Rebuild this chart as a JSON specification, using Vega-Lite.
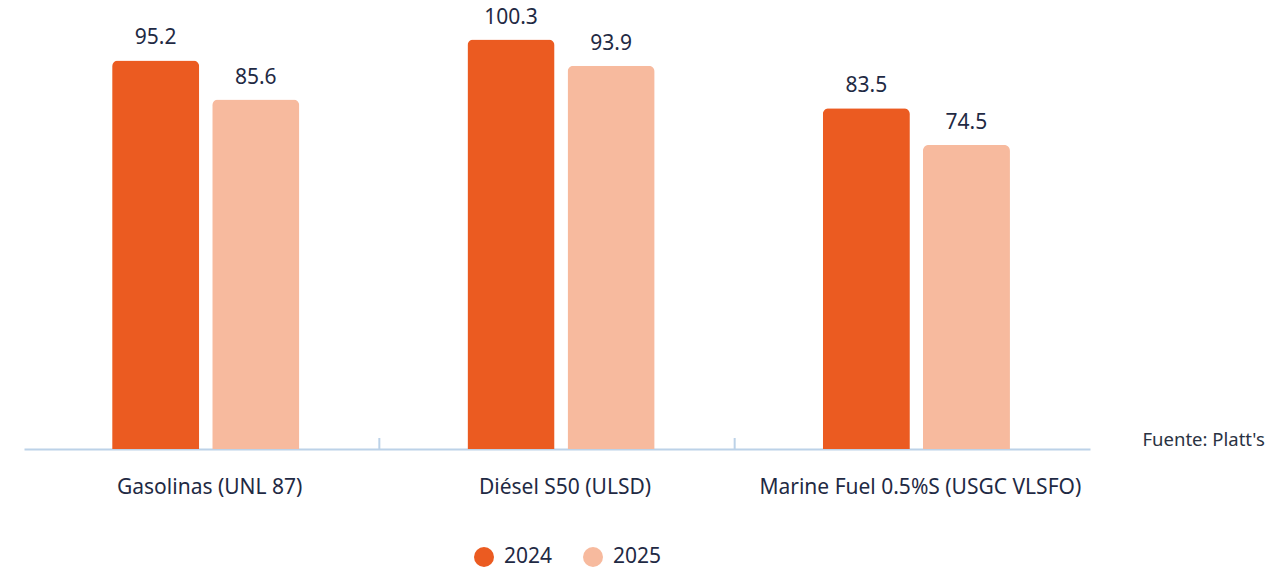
{
  "$schema": "https://vega.github.io/schema/vega-lite/v6.json",
  "width": 1066,
  "height": 449,
  "autosize": {"type": "none"},
  "padding": {"left": 24, "top": 0, "right": 178, "bottom": 121},
  "background": "white",
  "config": {
    "view": {"stroke": null},
    "font": "Noto Sans",
    "text": {"font": "Noto Sans"}
  },
  "datasets": {
    "bars": [
      {"producto": "Gasolinas (UNL 87)", "anio": "2024", "valor": 95.2},
      {"producto": "Gasolinas (UNL 87)", "anio": "2025", "valor": 85.6},
      {"producto": "Diésel S50 (ULSD)", "anio": "2024", "valor": 100.3},
      {"producto": "Diésel S50 (ULSD)", "anio": "2025", "valor": 93.9},
      {"producto": "Marine Fuel 0.5%S (USGC VLSFO)", "anio": "2024", "valor": 83.5},
      {"producto": "Marine Fuel 0.5%S (USGC VLSFO)", "anio": "2025", "valor": 74.5}
    ],
    "ticks": [
      {"producto": "Diésel S50 (ULSD)"},
      {"producto": "Marine Fuel 0.5%S (USGC VLSFO)"}
    ]
  },
  "layer": [
    {
      "data": {"name": "bars"},
      "mark": {"type": "bar", "cornerRadiusTopLeft": 6, "cornerRadiusTopRight": 6},
      "encoding": {
        "x": {
          "field": "producto", "type": "nominal", "sort": null,
          "scale": {"paddingInner": 0, "paddingOuter": 0},
          "axis": {
            "labelAngle": 0, "ticks": false, "labelPadding": 27, "labelLimit": 0, "labelOffset": 8,
            "labelFontSize": 21, "labelColor": "#1f2a44", "labelFont": "Noto Sans",
            "domainColor": "#bcd2e8", "domainWidth": 2,
            "title": "Fuente: Platt's", "titleFontSize": 18.5, "titleFontWeight": "normal",
            "titleColor": "#2a3242", "titleAnchor": "start", "titleAlign": "left",
            "titleX": 1118, "titleY": -10, "titleBaseline": "middle", "titleFont": "Noto Sans"
          }
        },
        "xOffset": {"field": "anio", "type": "nominal", "scale": {"paddingInner": 0.13, "paddingOuter": 0.84, "align": 0.524}},
        "y": {"field": "valor", "type": "quantitative", "scale": {"domain": [0, 110], "nice": false}, "axis": null},
        "color": {
          "field": "anio", "type": "nominal",
          "scale": {"domain": ["2024", "2025"], "range": ["#eb5b21", "#f7ba9e"]},
          "legend": {
            "title": null, "orient": "none", "direction": "horizontal",
            "legendX": 449, "legendY": 546,
            "symbolType": "circle", "symbolSize": 400, "symbolOpacity": 1,
            "labelFontSize": 21, "labelColor": "#1f2a44", "labelFont": "Noto Sans",
            "labelOffset": 9, "columnPadding": 29
          }
        }
      }
    },
    {
      "data": {"name": "bars"},
      "mark": {"type": "text", "baseline": "middle", "dy": -22, "fontSize": 21, "color": "#1f2a44", "font": "Noto Sans"},
      "encoding": {
        "x": {"field": "producto", "type": "nominal", "sort": null},
        "xOffset": {"field": "anio", "type": "nominal"},
        "y": {"field": "valor", "type": "quantitative"},
        "text": {"field": "valor", "type": "quantitative", "format": ".1f"}
      }
    },
    {
      "data": {"name": "ticks"},
      "mark": {"type": "rule", "color": "#bcd2e8", "strokeWidth": 2},
      "encoding": {
        "x": {"field": "producto", "type": "nominal", "sort": null, "bandPosition": 0},
        "y": {"datum": 0},
        "y2": {"datum": 2.7}
      }
    }
  ]
}
